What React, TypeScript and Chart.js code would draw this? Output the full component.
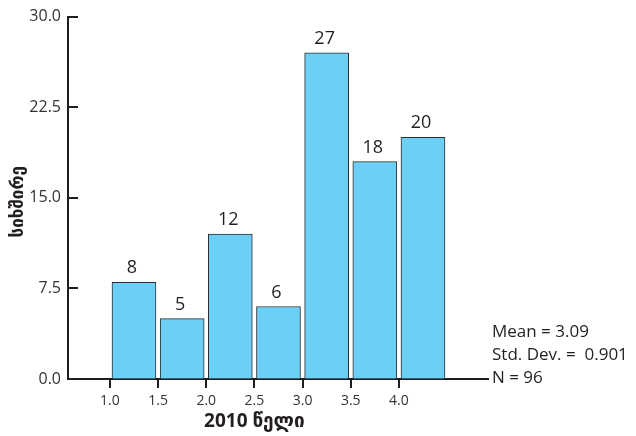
import React, { useEffect, useRef } from "react";
import { Chart, registerables } from "chart.js";

Chart.register(...registerables);

// ---- data ----
const binCenters = [1.25, 1.75, 2.25, 2.75, 3.25, 3.75, 4.25];
const counts = [8, 5, 12, 6, 27, 18, 20];
const xTickValues = [1.0, 1.5, 2.0, 2.5, 3.0, 3.5, 4.0];
const yTickValues = [0, 7.5, 15, 22.5, 30];
const xTitle = "2010 წელი";
const yTitle = "სიხშირე";
const statsLines = ["Mean = 3.09", "Std. Dev. =  0.901", "N = 96"];

const FONT = '"Open Sans", "DejaVu Sans", sans-serif';
const TEXT = "#231f20";
const AXIS = "#1e1e1e";

const decorPlugin = {
  id: "decor",
  afterDraw(chart: any) {
    const ctx = chart.ctx;
    const ca = chart.chartArea;
    const ys = chart.scales.y;
    const xs = chart.scales.x;
    ctx.save();
    // inward y tick marks
    ctx.strokeStyle = AXIS;
    ctx.lineWidth = 2;
    yTickValues.forEach((v) => {
      const py = Math.round(ys.getPixelForValue(v));
      ctx.beginPath();
      ctx.moveTo(ca.left, py);
      ctx.lineTo(ca.left + 10, py);
      ctx.stroke();
    });
    // bar value labels
    const meta = chart.getDatasetMeta(0);
    ctx.fillStyle = TEXT;
    ctx.font = `18px ${FONT}`;
    ctx.textAlign = "center";
    ctx.textBaseline = "alphabetic";
    meta.data.forEach((el: any, i: number) => {
      ctx.fillText(String(counts[i]), el.x - 2, el.y - 9);
    });
    // x title centred on tick range
    const cx = (xs.getPixelForValue(xTickValues[0]) + xs.getPixelForValue(xTickValues[xTickValues.length - 1])) / 2;
    ctx.font = `bold 19px ${FONT}`;
    ctx.fillText(xTitle, cx, 427);
    // y title
    ctx.save();
    ctx.translate(18, (ca.top + ca.bottom) / 2 + 4);
    ctx.rotate(-Math.PI / 2);
    ctx.font = `bold 17px ${FONT}`;
    ctx.textBaseline = "middle";
    ctx.fillText(yTitle, 0, 0);
    ctx.restore();
    // stats
    ctx.font = `17px ${FONT}`;
    ctx.textAlign = "left";
    const base = [337, 360, 383];
    statsLines.forEach((s, i) => {
      ctx.fillText(s, ca.right + 4, base[i]);
    });
    ctx.restore();
  },
};

export default function App() {
  const ref = useRef<HTMLCanvasElement | null>(null);
  useEffect(() => {
    if (!ref.current) return;
    const chart = new Chart(ref.current, {
      type: "bar",
      data: {
        datasets: [
          {
            data: counts.map((c, i) => ({ x: binCenters[i], y: c })),
            backgroundColor: "#6bcff6",
            borderColor: "#2e2e2e",
            borderWidth: 1,
            barThickness: 44,
          },
        ],
      },
      options: {
        animation: false,
        responsive: true,
        maintainAspectRatio: false,
        layout: { padding: { left: 0, right: 148, top: 14, bottom: 0 } },
        plugins: { legend: { display: false }, tooltip: { enabled: false } },
        scales: {
          x: {
            type: "linear",
            min: 0.565,
            max: 4.925,
            offset: false,
            afterFit(scale: any) {
              scale.height = 57;
            },
            afterBuildTicks(scale: any) {
              scale.ticks = xTickValues.map((v) => ({ value: v }));
            },
            grid: {
              offset: false,
              drawOnChartArea: false,
              drawTicks: true,
              tickLength: 9,
              tickColor: AXIS,
              lineWidth: 2,
            },
            border: { display: true, color: AXIS, width: 2 },
            ticks: {
              padding: 5,
              color: "#333",
              font: { family: FONT, size: 14 },
              maxRotation: 0,
              autoSkip: false,
              callback: (v: any) => Number(v).toFixed(1),
            },
          },
          y: {
            min: 0,
            max: 30,
            afterFit(scale: any) {
              scale.width = 68;
            },
            afterBuildTicks(scale: any) {
              scale.ticks = yTickValues.map((v) => ({ value: v }));
            },
            grid: { drawOnChartArea: false, drawTicks: false },
            border: { display: true, color: AXIS, width: 2 },
            ticks: {
              padding: 7,
              color: "#333",
              font: { family: FONT, size: 16 },
              callback: (v: any) => Number(v).toFixed(1),
            },
          },
        },
      },
      plugins: [decorPlugin],
    } as any);
    return () => chart.destroy();
  }, []);
  return (
    <div style={{ position: "fixed", left: 0, top: 0, width: 636, height: 436, background: "#fff" }}>
      <canvas ref={ref} />
    </div>
  );
}
